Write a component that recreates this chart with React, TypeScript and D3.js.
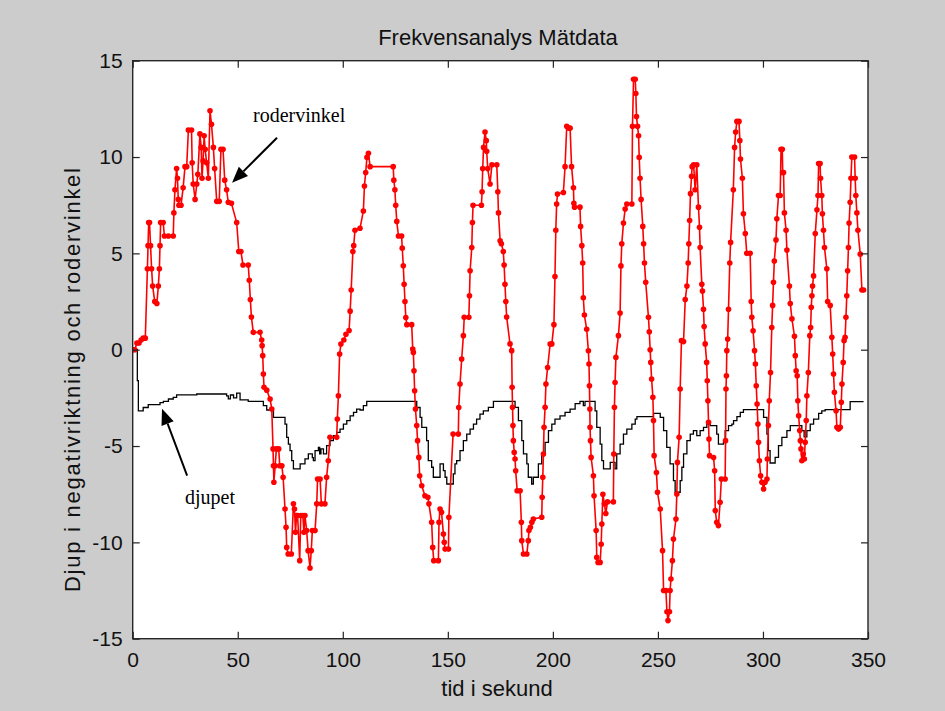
import React, { useEffect, useRef } from "react";
import * as d3 from "d3";

// [tid (s), rodervinkel]
const rodervinkel: [number, number][] = [
  [0, 0], [1, 0], [2, 0.35], [3, 0.35], [4, 0.5], [5, 0.6], [6, 0.6], [7, 4.2], [7.3, 5.4], [7.6, 6.6],
  [8, 6.6], [8.5, 5.4], [9, 4.2], [9.5, 3.3], [10.5, 2.5], [11.5, 2.4], [12.2, 3.3], [12.7, 4.2], [13, 5.4],
  [13.3, 6.6], [14.5, 6.6], [15.1, 5.9], [17, 5.9], [19.3, 5.9], [19.6, 7.1], [20.1, 8.3], [20.9, 9.4],
  [21.3, 8.9], [21.7, 7.8], [22, 7.5], [23, 7.5], [24, 8.4], [24.9, 9.5], [25.7, 9.5], [26.5, 11.4], [28, 11.4],
  [28.3, 9.7], [28.8, 8.6], [29.7, 7.8], [30.5, 8.6], [31, 9.1], [32, 11.2], [32.6, 10.5], [33, 8.9], [33.5, 9.8],
  [34, 11.1], [34.5, 10.4], [35.2, 9.7], [36, 8.9], [36.8, 12.4], [37.5, 11.7], [38.4, 10.5], [39, 9.4], [40, 7.7],
  [41.2, 7.7], [42, 10.4], [43, 10.4], [43.8, 8.8], [44.7, 8.3], [45.5, 7.65], [47, 7.6], [49.5, 6.6], [50.5, 5.1],
  [51.5, 5.1], [52.5, 4.4], [55, 4.4], [55.5, 3.6], [56, 2.6], [56.5, 1.7], [57.4, 0.9],
  [60.6, 0.9], [61.4, 0.5], [61.6, 0.21], [61.9, -0.31], [62.2, -1.26], [62.5, -1.95], [63.8, -2.1], [65.4, -2.56],
  [66.2, -3.08], [66.8, -5.15], [67, -6.02], [67.2, -6.88], [67.8, -6.02], [68.4, -5.15], [69.5, -5.15], [70, -6.02],
  [71, -6.02], [71.6, -6.62], [72.5, -8.27], [73, -9.22], [73.3, -10.26], [74, -10.6], [75.5, -10.6], [76.5, -8.0],
  [77, -8.27], [77.5, -9.48], [78, -8.61], [78.5, -8.61], [79.5, -10.95], [80, -8.61], [81, -8.61], [81.5, -9.48],
  [82, -8.61], [82.8, -9.39], [83.5, -10.43], [84.4, -11.33], [85, -10.43], [85.5, -9.39], [86.8, -9.39], [87.6, -8.0],
  [88, -6.71], [89.2, -6.71], [89.8, -8.0], [91.5, -8.0], [92.3, -6.62], [93.1, -5.76], [93.9, -4.55], [97.1, -4.55],
  [97.4, -3.6], [97.9, -2.39], [98.5, -0.22], [99.1, 0.29], [100.5, 0.5], [101.5, 0.8], [103, 1.0],
  [103.5, 2.0], [104, 3.1], [104.8, 5.1], [105.2, 5.4], [105.8, 6.2], [108.2, 6.3], [109.8, 7.2], [110.3, 8.5],
  [110.9, 9.2], [111.5, 9.98], [112.2, 10.2], [113, 9.5], [124, 9.5], [124.3, 8.8], [124.8, 8.3], [125.2, 7.5],
  [125.7, 6.66], [126.5, 5.9], [128, 5.9], [128.3, 5.27], [128.8, 4.36], [129.2, 3.4], [129.6, 2.5], [130, 1.67],
  [130.5, 1.3], [132.8, 1.3], [133.3, 0.03],
  [133.6, -0.14], [133.9, -1.09], [134.2, -2.13], [134.6, -3.08], [135.2, -3.94], [135.6, -4.72], [136.2, -5.59],
  [136.6, -6.54], [137.6, -7.06], [139.1, -7.58], [140.5, -7.66], [141, -8.0], [142.3, -8.96], [142.8, -10.26],
  [143.3, -10.95], [145.5, -10.95], [145.8, -8.96], [146.3, -8.27], [147, -8.44], [147.9, -9.57], [148.3, -10.0],
  [148.7, -10.35], [150.3, -10.35], [150.5, -8.7], [152.5, -4.38], [155, -4.38], [155.2, -3.0], [155.8, -1.78],
  [156.6, -0.48], [157.4, 0.73],
  [157.8, 1.68], [160, 1.68], [160.3, 2.8], [160.6, 4.1], [161.4, 5.3], [161.7, 6.6], [162, 7.5], [166, 7.5],
  [166.3, 8.2], [166.6, 9.4], [167, 10.5], [167.7, 11.3], [168.3, 10.85], [168.5, 10.3], [169, 9.4], [170.1, 8.6],
  [171, 9.6], [173.3, 9.6], [173.8, 8.2], [174.1, 7.1], [174.9, 5.65], [175.5, 5.5], [176.4, 5.1], [176.8, 4.4],
  [177.2, 3.4], [177.6, 2.5], [178, 1.7], [179.6, 0.3], [180.4, -0.05],
  [180.6, -1.95], [180.8, -2.99], [181, -3.94], [181.2, -4.72], [181.6, -5.33], [182, -5.67], [182.3, -6.28],
  [183, -7.32], [184.4, -7.32], [185, -8.96], [185.2, -9.91], [186, -10.6], [187.6, -10.6], [188.3, -9.91],
  [188.6, -9.39], [189.3, -9.22], [190, -8.96], [190.7, -8.79], [194.7, -8.7], [194.9, -7.66], [195.2, -6.62],
  [195.5, -5.41], [195.8, -4.03], [196.3, -2.99], [196.7, -1.78], [197.5, -0.92], [198.7, 0.29],
  [199.5, 0.3], [200.5, 1.3], [201, 3.8], [201.4, 6.2], [201.8, 7.56], [202.2, 8.08], [205, 8.16], [205.8, 9.5],
  [206.6, 11.6], [207.5, 11.5], [208.2, 11.5], [208.9, 9.5], [209.8, 8.4], [210, 7.6], [210.3, 7.4], [212.9, 7.4],
  [213.2, 6.4], [213.8, 5.4], [214.2, 4.5], [214.5, 2.7], [215, 1.8], [216.1, 1.06], [216.9, -0.06],
  [217.2, -0.74], [217.4, -1.87], [217.6, -3.08], [217.7, -4.03], [217.9, -4.72], [218.2, -5.59], [219.3, -6.54],
  [219.6, -7.58], [220.6, -9.39], [220.9, -10.78], [221.5, -11.04], [222.5, -11.04], [223, -10.1], [223.3, -9.05],
  [223.8, -7.5], [224.5, -8.0], [225.2, -8.5], [226, -7.9], [228.8, -7.9], [229, -5.41], [229.3, -2.99],
  [229.6, -1.7], [230, -0.4], [231.2, 0.73],
  [232, 1.9], [232.4, 4.35], [232.8, 5.5], [233.6, 6.57], [234.4, 7.3], [235.2, 7.56], [237.6, 7.56], [237.9, 11.6],
  [238.4, 14.04], [239.2, 14.04], [239.5, 13.3], [239.8, 12.1], [240.3, 11.6], [240.8, 11.1], [241.1, 9.98],
  [241.5, 8.9], [242, 7.8], [242.8, 6.4], [243.2, 5.5], [243.6, 4.5], [244.2, 3.5], [245.5, 1.68], [245.9, 0.93],
  [246.3, 0], [246.6, -0.66], [247, -1.52], [247.6, -2.47], [247.9, -3.68], [248.2, -5.5], [249.3, -6.37],
  [249.8, -7.4], [251.1, -8.27], [252.2, -10.43], [252.7, -12.5], [253.8, -12.5], [254.3, -13.6], [254.8, -14.06],
  [255.5, -13.6], [255.8, -12.5], [256.2, -11.9], [256.9, -10.95], [257.4, -9.83], [258.6, -8.79], [259, -7.49],
  [259.3, -5.85], [260.1, -4.55], [260.6, -2.04], [261.2, 0.47],
  [262.2, 0.42], [263, 2.6], [263.8, 3.3], [264.4, 4.5], [264.7, 5.5], [265.1, 6.7], [265.5, 8.1], [266, 9.0],
  [266.3, 9.5], [267, 9.6], [267.7, 8.3], [268.5, 9.6], [269.3, 7.4], [269.8, 6.35], [270.1, 5.3], [270.9, 3.4],
  [271.2, 3.05], [271.7, 2.1], [272, 1.2], [272.5, 0.3], [273.2, -0.66], [273.5, -1.61], [273.8, -2.65],
  [274.1, -3.77], [274.3, -4.64], [274.6, -5.5], [276.5, -5.6], [277, -6.28], [277.3, -8.35], [278, -8.96],
  [278.8, -9.13], [279.6, -7.92], [280.2, -6.71], [282, -6.71], [282.2, -4.72], [282.4, -2.04], [282.6, -1.35],
  [282.8, -0.05],
  [283.2, 0.55], [283.6, 2.1], [284.2, 4.5], [284.6, 5.57], [285.9, 8.3], [286.5, 10.5], [287, 11.3], [287.6, 11.85],
  [288.6, 11.85], [289, 10.85], [289.3, 9.9], [290.2, 8.9], [290.7, 7.05], [291.6, 6.03], [292.3, 5.0], [293.9, 5.0],
  [294.4, 2.5], [294.7, 1.68], [295.3, 0.98], [296, -0.05], [296.4, -0.74], [296.8, -1.87], [297.2, -2.82],
  [297.6, -3.86], [297.9, -4.81], [298.3, -5.76], [298.9, -6.54], [299.5, -6.88], [300.3, -7.23], [301, -6.88],
  [301.9, -6.71], [302.1, -5.67], [302.6, -3.94], [303, -2.65], [303.6, -1.18],
  [304.2, 1.15], [304.6, 2.3], [305, 3.5], [305.4, 4.6], [306.2, 5.7], [306.6, 6.8], [307.4, 8.0], [308.2, 8.0],
  [308.6, 10.4], [309.2, 10.4], [309.4, 9.2], [309.8, 9.2], [310.2, 7.1], [311, 6.2], [311.4, 5.17], [312.6, 3.3],
  [313, 2.4], [313.8, 1.6], [315, 0.7], [315.4, -0.31], [315.8, -1.09], [316.3, -1.35], [316.6, -2.65], [317, -3.43],
  [317.5, -4.2], [317.8, -4.72], [318.1, -5.15], [318.5, -5.76], [319.2, -5.41], [319.7, -5.67], [320.1, -4.81],
  [320.6, -3.68], [320.9, -2.39], [321.6, -1.18], [322.3, 0.73], [322.7, 1.15], [323, 2.2], [323.3, 2.8],
  [323.6, 3.3], [324.1, 3.83], [324.9, 6.03], [325.7, 7.26], [326.2, 8.0], [326.5, 9.66], [327.2, 9.66],
  [327.4, 8.9], [328, 8.0], [328.3, 7.05], [328.8, 6.2], [329.3, 5.3], [330.4, 4.2], [330.8, 2.5], [332, 2.3],
  [332.8, 0.64], [333.2, -0.22], [333.6, -1.26], [334, -2.21], [334.8, -3.17], [335.2, -4.03], [336, -4.12],
  [336.8, -4.03], [337.3, -2.73], [337.6, -1.78], [338.2, -0.66], [338.6, 0.47], [339.1, 0.64], [339.5, 1.68],
  [339.9, 2.8], [340.3, 4.1], [340.7, 5.3], [341, 6.57], [341.5, 7.65], [341.9, 8.9], [342.3, 10.0], [343.6, 10.0],
  [343.9, 8.9], [344.2, 8.0], [344.7, 7.1], [345.2, 6.2], [346.3, 4.96], [347.1, 3.1], [347.9, 3.1],
];

// [tid (s), djup] (trappsteg)
const djupet: [number, number][] = [
  [0, 0], [2.2, -1.6], [2.7, -3.17], [5, -3.0], [7.4, -2.85], [13, -2.75], [14.6, -2.68], [17, -2.56], [19.3, -2.47],
  [20.9, -2.34], [30.5, -2.3], [44.7, -2.4], [45.5, -2.55], [46.5, -2.35], [48, -2.5], [49.5, -2.25], [51.1, -2.6],
  [55, -2.68], [62.2, -2.9], [63.8, -3.13], [67, -3.51], [72.5, -3.86], [73.3, -4.55], [74.1, -4.9], [74.9, -5.24],
  [75.7, -5.76], [76.5, -6.19], [79.7, -5.93], [82, -5.67], [83.6, -5.41], [85.5, -5.6], [86, -5.76], [86.8, -5.24],
  [88.4, -5.07], [89, -5.4], [89.6, -5.15], [90.8, -5.41], [92.3, -4.98], [93.9, -4.72], [95.5, -4.46], [97.1, -4.29],
  [98.7, -4.12], [100.3, -3.86], [101.9, -3.68], [103.5, -3.43], [105.1, -3.25], [106.6, -3.08], [108.2, -3.13],
  [109.8, -2.9], [111.4, -2.68], [134.4, -2.68], [135.2, -3.0], [136.8, -3.51], [137.6, -4.03], [139.9, -4.72],
  [140.7, -5.76], [142.3, -6.1], [143.1, -6.62], [145.5, -6.62], [146.3, -5.93], [147.9, -6.28], [148.7, -6.62],
  [149.5, -6.97], [151.8, -6.97], [152.6, -6.45], [153.4, -5.93], [154.2, -5.76], [155.8, -5.24], [157.4, -4.72],
  [159, -4.38], [160.6, -4.12], [162.2, -3.86], [163.7, -3.6], [165.3, -3.34], [166.9, -3.17], [169.3, -2.99],
  [171.7, -2.68], [181.2, -2.68], [182, -2.99], [183.6, -3.68], [185.2, -4.72], [186, -5.41], [187.6, -5.93],
  [188.3, -6.62], [189.9, -6.97], [190.7, -6.62], [193.1, -5.93], [194.7, -5.41], [196.3, -4.81], [197.9, -4.2],
  [199.5, -3.86], [201, -3.6], [203.4, -3.43], [205.8, -3.25], [208.2, -3.08], [210.6, -2.8], [212.9, -2.68],
  [214.5, -2.9], [215.3, -2.68], [219.3, -2.68], [220.1, -3.17], [220.9, -4.03], [222.5, -4.9], [223.3, -5.76],
  [224.1, -6.19], [226.5, -6.19], [227.3, -5.85], [229.6, -6.19], [230.4, -5.41], [232, -4.9], [233.6, -4.38],
  [235.2, -4.12], [237.6, -3.86], [239.2, -3.6], [240, -3.47], [247.9, -3.3], [251.1, -3.51], [252.7, -4.2],
  [254.2, -5.07], [255.8, -5.93], [257.4, -6.8], [258.2, -7.4], [259.8, -7.4], [260.6, -6.8], [261.4, -6.1],
  [262.2, -5.41], [263.8, -4.72], [265.4, -4.38], [266.9, -4.2], [268.5, -4.46], [270.1, -4.2], [271.7, -4.03],
  [273.3, -3.86], [274.9, -3.94], [277.3, -3.94], [278, -4.38], [278.8, -4.9], [281.2, -4.81], [282, -4.2],
  [283.6, -3.94], [285.2, -3.86], [286, -3.68], [287.6, -3.47], [289.2, -3.25], [290.7, -3.11], [298.7, -3.11],
  [300.3, -3.51], [301.9, -4.38], [302.6, -5.24], [303.4, -5.88], [305, -5.88], [305.8, -5.59], [307.4, -4.98],
  [309, -4.55], [311.4, -4.2], [313, -3.94], [317.7, -3.94], [318.5, -4.2], [319.6, -4.52], [320.9, -4.2],
  [322.5, -3.86], [324.1, -3.6], [326.5, -3.3], [328, -3.17], [329.6, -3.11], [340.7, -3.11], [341.5, -2.7],
  [347.9, -2.7],
];

const xTicks = [0, 50, 100, 150, 200, 250, 300, 350];
const yTicks = [-15, -10, -5, 0, 5, 10, 15];

const titel = "Frekvensanalys Mätdata";
const xEtikett = "tid i sekund";
const yEtikett = "Djup i negativriktning och rodervinkel";

// annoteringar i dataenheter: text, textposition, pilstart, pilspets
const annoteringar = [
  { text: "rodervinkel", tx: 57.3, ty: 11.8, x0: 68.7, y0: 11.0, x1: 47.3, y1: 8.67 },
  { text: "djupet", tx: 24.9, ty: -8.0, x0: 25.9, y0: -6.54, x1: 13.95, y1: -3.06 },
];

const App = () => {
  const svgRef = useRef<SVGSVGElement>(null);

  useEffect(() => {
    const w = 945;
    const h = 711;
    const left = 132.7;
    const right = 868;
    const top = 60.7;
    const bottom = 638.7;
    const sans = "'Liberation Sans', Arial, sans-serif";

    const svg = d3.select(svgRef.current);
    svg.selectAll("*").remove();

    svg.append("rect").attr("width", w).attr("height", h).attr("fill", "#cccccc");
    svg
      .append("rect")
      .attr("x", left)
      .attr("y", top)
      .attr("width", right - left)
      .attr("height", bottom - top)
      .attr("fill", "#ffffff");

    const x = d3.scaleLinear().domain([0, 350]).range([left, right]);
    const y = d3.scaleLinear().domain([-15, 15]).range([bottom, top]);

    const clip = svg.append("clipPath").attr("id", "plotclip");
    clip
      .append("rect")
      .attr("x", left)
      .attr("y", top)
      .attr("width", right - left)
      .attr("height", bottom - top);

    const plot = svg.append("g").attr("clip-path", "url(#plotclip)");

    // djupet
    const stegLinje = d3
      .line<[number, number]>()
      .x((d) => x(d[0]))
      .y((d) => y(d[1]))
      .curve(d3.curveStepAfter);
    plot
      .append("path")
      .datum(djupet)
      .attr("d", stegLinje)
      .attr("fill", "none")
      .attr("stroke", "#000")
      .attr("stroke-width", 1.3);

    // rodervinkel
    const linje = d3
      .line<[number, number]>()
      .x((d) => x(d[0]))
      .y((d) => y(d[1]));
    plot
      .append("path")
      .datum(rodervinkel)
      .attr("d", linje)
      .attr("fill", "none")
      .attr("stroke", "#ff0000")
      .attr("stroke-width", 1.6);
    plot
      .selectAll(".punkt")
      .data(rodervinkel)
      .enter()
      .append("circle")
      .attr("class", "punkt")
      .attr("cx", (d) => x(d[0]))
      .attr("cy", (d) => y(d[1]))
      .attr("r", 2.8)
      .attr("fill", "#ff0000");

    // axlar
    const tick = 7;
    const fmt = (d: d3.NumberValue) => String(d);
    const xAxis = d3.axisBottom(x).tickValues(xTicks).tickSize(-tick).tickSizeOuter(0).tickPadding(13).tickFormat(fmt);
    const xTop = d3.axisTop(x).tickValues(xTicks).tickSize(-tick).tickSizeOuter(0).tickFormat(() => "");
    const yAxis = d3.axisLeft(y).tickValues(yTicks).tickSize(-tick).tickSizeOuter(0).tickPadding(10).tickFormat(fmt);
    const yRight = d3.axisRight(y).tickValues(yTicks).tickSize(-tick).tickSizeOuter(0).tickFormat(() => "");

    svg.append("g").attr("transform", `translate(0, ${bottom})`).call(xAxis);
    svg.append("g").attr("transform", `translate(0, ${top})`).call(xTop);
    svg.append("g").attr("transform", `translate(${left}, 0)`).call(yAxis);
    svg.append("g").attr("transform", `translate(${right}, 0)`).call(yRight);

    svg.selectAll(".domain").remove();
    svg.selectAll(".tick line").attr("stroke", "#222").attr("stroke-width", 1.2);
    svg
      .selectAll(".tick text")
      .attr("fill", "#111")
      .attr("font-family", sans)
      .attr("font-size", "21px");

    svg
      .append("rect")
      .attr("x", left)
      .attr("y", top)
      .attr("width", right - left)
      .attr("height", bottom - top)
      .attr("fill", "none")
      .attr("stroke", "#262626")
      .attr("stroke-width", 1.4);

    // titel och etiketter
    svg
      .append("text")
      .attr("x", 498)
      .attr("y", 45)
      .attr("text-anchor", "middle")
      .attr("font-family", sans)
      .attr("font-size", "22px")
      .attr("fill", "#111")
      .text(titel);

    svg
      .append("text")
      .attr("x", 497)
      .attr("y", 696)
      .attr("text-anchor", "middle")
      .attr("font-family", sans)
      .attr("font-size", "22px")
      .attr("fill", "#111")
      .text(xEtikett);

    svg
      .append("text")
      .attr("transform", "translate(80, 380) rotate(-90)")
      .attr("text-anchor", "middle")
      .attr("font-family", sans)
      .attr("font-size", "22px")
      .attr("fill", "#111")
      .attr("textLength", 424)
      .attr("lengthAdjust", "spacing")
      .text(yEtikett);

    // annoteringar
    annoteringar.forEach((a) => {
      const px0 = x(a.x0);
      const py0 = y(a.y0);
      const px1 = x(a.x1);
      const py1 = y(a.y1);
      const ang = Math.atan2(py1 - py0, px1 - px0);
      const len = 16;
      const half = 6.5;
      const bx = px1 - len * Math.cos(ang);
      const by = py1 - len * Math.sin(ang);
      const nx = -Math.sin(ang);
      const ny = Math.cos(ang);

      svg
        .append("line")
        .attr("x1", px0)
        .attr("y1", py0)
        .attr("x2", bx)
        .attr("y2", by)
        .attr("stroke", "#000")
        .attr("stroke-width", 2);
      svg
        .append("polygon")
        .attr(
          "points",
          `${px1},${py1} ${bx + nx * half},${by + ny * half} ${bx - nx * half},${by - ny * half}`
        )
        .attr("fill", "#000");
      svg
        .append("text")
        .attr("x", x(a.tx))
        .attr("y", y(a.ty))
        .attr("font-family", "'Liberation Serif', 'Times New Roman', serif")
        .attr("font-size", "20px")
        .attr("fill", "#000")
        .text(a.text);
    });
  }, []);

  return (
    <div style={{ position: "fixed", top: 0, left: 0, width: 945, height: 711 }}>
      <svg ref={svgRef} width={945} height={711} style={{ display: "block" }}></svg>
    </div>
  );
};

export default App;
